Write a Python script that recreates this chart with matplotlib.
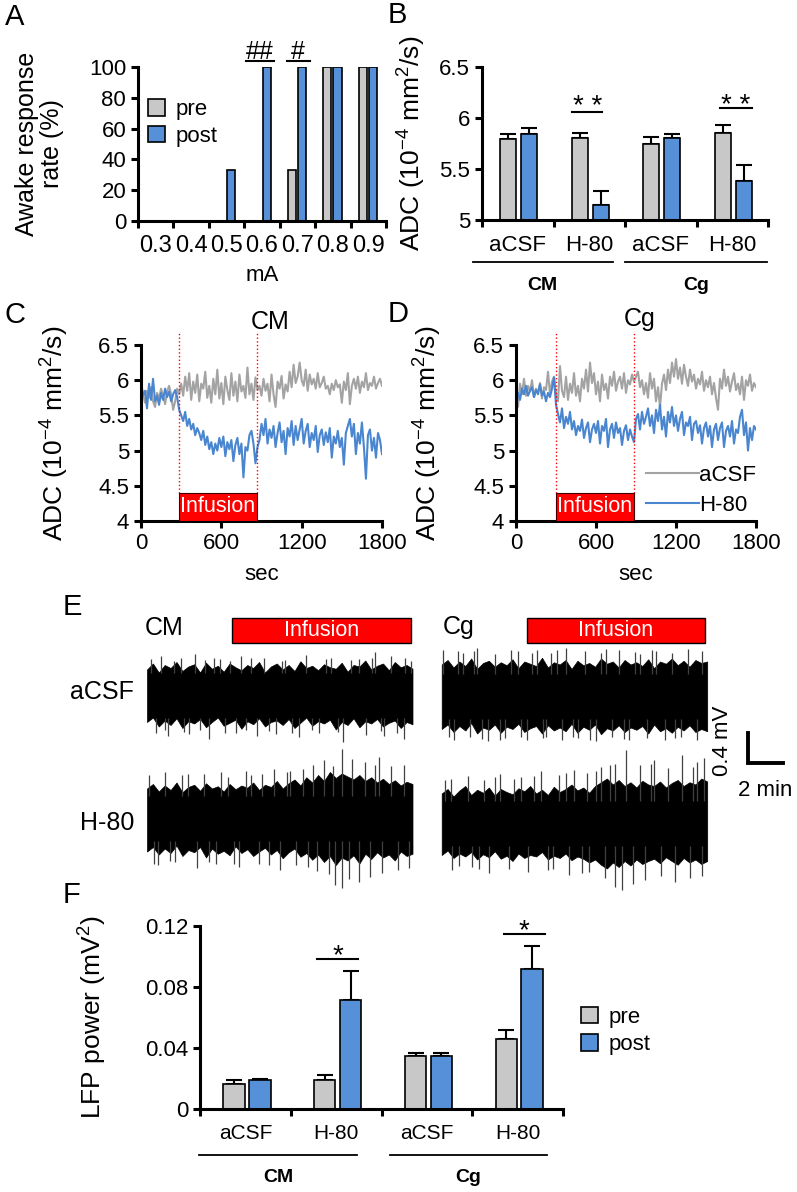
import numpy as np
import matplotlib
matplotlib.use('Agg')
import matplotlib.pyplot as plt
from matplotlib.patches import Rectangle
from matplotlib.transforms import blended_transform_factory as blend

plt.rcParams['font.family'] = ['Liberation Sans', 'DejaVu Sans']
plt.rcParams['mathtext.fontset'] = 'custom'
plt.rcParams['mathtext.rm'] = 'Liberation Sans'
plt.rcParams['mathtext.it'] = 'Liberation Sans:italic'
plt.rcParams['mathtext.bf'] = 'Liberation Sans:bold'

# ------------------------------------------------------------------ data
# Panel A
a_currents = ['0.3', '0.4', '0.5', '0.6', '0.7', '0.8', '0.9']
a_pre = [0, 0, 0, 0, 33.3, 100, 100]
a_post = [0, 0, 33.3, 100, 100, 100, 100]

# Panel B (ADC, 10^-4 mm^2/s)
b_groups = ['aCSF', 'H-80', 'aCSF', 'H-80']
b_pre = [5.79, 5.80, 5.75, 5.85]
b_pre_err = [0.05, 0.05, 0.06, 0.08]
b_post = [5.84, 5.15, 5.80, 5.38]
b_post_err = [0.06, 0.13, 0.04, 0.16]

# Panels C / D time courses (sampled every 15 s)
ts_step_sec = 15
c_acsf = [5.72, 5.80, 5.68, 5.85, 5.75, 5.90, 5.70, 5.62, 5.82, 5.74, 5.88, 5.78, 5.66, 5.84, 5.92, 5.80, 5.58, 5.70, 5.88, 5.80,
          5.95, 5.78, 6.05, 5.85, 6.10, 5.72, 5.98, 5.82, 6.08, 5.70, 5.95, 5.88, 6.12, 5.75, 5.92, 5.68, 6.02, 5.80, 6.15, 5.74,
          5.96, 5.66, 6.05, 5.86, 5.72, 6.10, 5.78, 5.98, 5.70, 6.08, 5.84, 5.92, 5.75, 6.18, 5.80, 5.95, 5.72, 6.04, 5.86, 5.92,
          5.78, 6.02, 5.85, 5.95, 5.70, 6.08, 5.80, 5.62, 5.98, 5.88, 6.06, 5.74, 5.94, 5.84, 6.12, 5.90, 6.22, 5.96, 6.05, 6.25,
          6.00, 5.92, 6.15, 5.85, 6.08, 5.94, 6.02, 5.88, 6.10, 5.90, 5.96, 6.05, 5.88, 5.92, 5.80, 5.95, 5.86, 6.00, 5.90, 5.94,
          5.68, 5.98, 5.86, 6.10, 5.66, 5.92, 6.02, 5.88, 6.05, 5.82, 5.98, 5.90, 6.10, 5.86, 5.96, 5.92, 6.05, 5.88, 5.96, 6.02,
          5.92]
c_h80 = [6.00, 5.78, 5.85, 5.60, 5.95, 5.72, 6.02, 5.70, 5.78, 5.65, 5.82, 5.72, 5.88, 5.76, 5.84, 5.70, 5.80, 5.86, 5.76, 5.58,
         5.50, 5.42, 5.55, 5.35, 5.45, 5.30, 5.38, 5.22, 5.32, 5.25, 5.15, 5.28, 5.08, 5.20, 5.02, 5.12, 4.95, 5.10, 5.00, 5.18,
         5.05, 5.20, 4.92, 5.12, 5.02, 5.15, 4.85, 5.08, 5.18, 4.95, 5.10, 4.62, 5.05, 5.00, 5.22, 5.28, 5.10, 4.82, 5.05, 5.15,
         5.38, 5.22, 5.45, 5.10, 5.30, 5.18, 5.35, 5.05, 5.25, 5.40, 5.12, 5.28, 4.95, 5.32, 5.20, 5.42, 5.08, 5.35, 5.15, 5.30,
         5.45, 5.10, 5.28, 5.38, 5.05, 5.25, 5.15, 5.35, 4.98, 5.22, 5.30, 5.08, 5.26, 5.12, 5.32, 4.90, 5.20, 5.10, 5.28, 5.05,
         5.18, 4.80, 5.25, 5.35, 5.45, 5.20, 5.38, 4.95, 5.25, 5.10, 5.40, 5.05, 4.60, 5.22, 5.30, 5.00, 5.18, 4.90, 5.25, 5.15,
         4.95]
d_acsf = [5.70, 5.62, 5.95, 5.80, 6.02, 5.78, 5.92, 5.84, 6.00, 5.76, 5.88, 5.82, 5.96, 5.74, 5.90, 5.86, 6.12, 5.80, 5.98, 6.05,
          5.80, 5.70, 6.20, 5.85, 5.76, 6.05, 5.72, 5.95, 5.82, 6.10, 5.78, 5.92, 5.70, 6.02, 5.88, 6.15, 5.84, 6.25, 5.96, 6.10,
          5.80, 5.98, 5.70, 6.08, 5.86, 5.95, 5.74, 6.05, 5.92, 6.12, 5.85, 5.98, 6.05, 5.88, 6.10, 5.82, 6.00, 5.94, 6.08, 5.98,
          6.05, 6.12, 5.90, 6.00, 5.80, 5.96, 5.75, 6.10, 5.88, 6.02, 5.70, 5.90, 5.62, 5.95, 6.08, 5.86, 6.15, 5.96, 6.25, 6.05,
          6.30, 6.02, 6.18, 5.95, 6.22, 6.05, 5.92, 6.15, 5.98, 6.08, 5.88, 6.02, 5.94, 6.12, 5.85, 6.00, 5.90, 6.05, 5.80, 5.96,
          5.75, 5.58, 6.02, 5.88, 6.15, 5.92, 6.05, 5.84, 5.98, 6.10, 5.86, 5.95, 5.80, 6.05, 5.72, 6.00, 5.92, 6.08, 5.85, 5.96,
          5.90]
d_h80 = [5.75, 5.82, 5.72, 5.88, 5.80, 5.92, 5.78, 5.85, 5.90, 5.76, 5.86, 5.80, 5.94, 5.78, 5.84, 5.70, 5.82, 5.76, 5.88, 6.04,
         5.65, 5.52, 5.40, 5.60, 5.32, 5.48, 5.38, 5.55, 5.30, 5.42, 5.22, 5.35, 5.28, 5.44, 5.18, 5.32, 5.40, 5.12, 5.30, 5.38,
         5.25, 5.42, 5.10, 5.35, 5.28, 5.45, 5.05, 5.30, 5.38, 5.18, 5.40, 5.25, 5.32, 5.08, 5.28, 5.36, 5.15, 5.30, 5.20, 5.12,
         5.45, 5.52, 5.30, 5.55, 5.38, 5.48, 5.60, 5.35, 5.50, 5.25, 5.58, 5.42, 5.65, 5.30, 5.48, 5.20, 5.55, 5.40, 5.62, 5.35,
         5.50, 5.28, 5.45, 5.55, 5.22, 5.40, 5.35, 5.48, 5.15, 5.38, 5.42, 5.25, 5.36, 5.10, 5.32, 5.40, 5.20, 5.35, 5.05, 5.30,
         5.38, 5.15, 5.32, 5.40, 5.05, 5.28, 5.35, 5.20, 5.42, 5.10, 5.30, 5.25, 5.48, 5.58, 5.22, 5.40, 5.00, 5.32, 5.15, 5.35,
         5.30]
c_infusion = (285, 865)
d_infusion = (300, 885)

# Panel E LFP trace envelopes (mV around trace centre, every 20 s over 15 min)
e_step_min = 1 / 3
cm_acsf_up = [0.34, 0.42, 0.30, 0.40, 0.36, 0.44, 0.32, 0.38, 0.41, 0.30,
              0.43, 0.35, 0.39, 0.31, 0.42, 0.37, 0.33, 0.40, 0.36, 0.44,
              0.30, 0.38, 0.42, 0.34, 0.40, 0.32, 0.45, 0.36, 0.39, 0.33,
              0.41, 0.37, 0.35, 0.43, 0.31, 0.40, 0.38, 0.46, 0.34, 0.39,
              0.42, 0.33, 0.44, 0.37, 0.40, 0.35]
cm_acsf_lo = [-0.36, -0.30, -0.42, -0.34, -0.40, -0.31, -0.44, -0.35, -0.38, -0.32,
              -0.43, -0.36, -0.30, -0.41, -0.37, -0.33, -0.45, -0.35, -0.39, -0.31,
              -0.42, -0.36, -0.34, -0.40, -0.32, -0.44, -0.37, -0.30, -0.41, -0.35,
              -0.38, -0.33, -0.46, -0.36, -0.40, -0.31, -0.43, -0.35, -0.38, -0.32,
              -0.42, -0.37, -0.34, -0.44, -0.36, -0.39]
cm_h80_up = [0.40, 0.46, 0.36, 0.44, 0.38, 0.48, 0.35, 0.42, 0.45, 0.37,
             0.47, 0.40, 0.43, 0.36, 0.46, 0.39, 0.44, 0.41, 0.48, 0.38,
             0.45, 0.42, 0.50, 0.40, 0.47, 0.52, 0.44, 0.55, 0.48, 0.58,
             0.50, 0.62, 0.54, 0.60, 0.56, 0.52, 0.58, 0.50, 0.55, 0.48,
             0.53, 0.46, 0.51, 0.44, 0.49, 0.46]
cm_h80_lo = [-0.44, -0.38, -0.48, -0.40, -0.46, -0.36, -0.50, -0.42, -0.45, -0.38,
             -0.52, -0.40, -0.47, -0.43, -0.49, -0.37, -0.46, -0.41, -0.50, -0.44,
             -0.39, -0.48, -0.42, -0.53, -0.45, -0.40, -0.51, -0.46, -0.55, -0.48,
             -0.58, -0.50, -0.62, -0.52, -0.56, -0.49, -0.60, -0.47, -0.54, -0.45,
             -0.52, -0.48, -0.56, -0.44, -0.50, -0.47]
cg_acsf_up = [0.42, 0.48, 0.38, 0.46, 0.40, 0.50, 0.36, 0.44, 0.47, 0.39,
              0.45, 0.41, 0.49, 0.37, 0.46, 0.43, 0.40, 0.51, 0.38, 0.45,
              0.42, 0.48, 0.36, 0.47, 0.41, 0.44, 0.39, 0.50, 0.43, 0.46,
              0.38, 0.48, 0.42, 0.45, 0.40, 0.49, 0.37, 0.46, 0.43, 0.50,
              0.41, 0.47, 0.39, 0.48, 0.44, 0.46]
cg_acsf_lo = [-0.44, -0.38, -0.48, -0.40, -0.46, -0.36, -0.50, -0.42, -0.45, -0.38,
              -0.49, -0.41, -0.44, -0.37, -0.48, -0.43, -0.40, -0.50, -0.39, -0.46,
              -0.42, -0.47, -0.37, -0.49, -0.41, -0.45, -0.38, -0.51, -0.43, -0.46,
              -0.39, -0.48, -0.42, -0.45, -0.40, -0.50, -0.38, -0.47, -0.43, -0.49,
              -0.41, -0.46, -0.39, -0.48, -0.44, -0.47]
cg_h80_up = [0.40, 0.46, 0.36, 0.44, 0.50, 0.38, 0.45, 0.41, 0.48, 0.37,
             0.46, 0.42, 0.39, 0.47, 0.43, 0.50, 0.40, 0.45, 0.38, 0.49,
             0.42, 0.46, 0.52, 0.44, 0.48, 0.41, 0.50, 0.55, 0.60, 0.52,
             0.58, 0.50, 0.55, 0.48, 0.57, 0.52, 0.50, 0.56, 0.48, 0.54,
             0.58, 0.50, 0.55, 0.52, 0.60, 0.56]
cg_h80_lo = [-0.42, -0.36, -0.46, -0.40, -0.44, -0.38, -0.48, -0.41, -0.45, -0.37,
             -0.47, -0.43, -0.50, -0.40, -0.46, -0.42, -0.44, -0.38, -0.48, -0.43,
             -0.46, -0.40, -0.49, -0.44, -0.47, -0.52, -0.48, -0.55, -0.60, -0.52,
             -0.58, -0.50, -0.56, -0.48, -0.54, -0.50, -0.47, -0.53, -0.45, -0.50,
             -0.55, -0.46, -0.52, -0.48, -0.54, -0.50]
# spikes: time (min) and peak (mV) of the individual excursions beyond the dense band
cm_acsf_spk_t = [0.2, 0.5, 0.8, 1.0, 1.2, 1.5, 1.9, 2.1, 2.4, 2.7,
                 3.0, 3.3, 3.5, 3.8, 4.1, 4.4, 4.7, 5.0, 5.3, 5.6,
                 5.9, 6.2, 6.6, 6.9, 7.3, 7.6, 7.8, 8.2, 8.6, 9.0,
                 9.3, 9.7, 10.1, 10.4, 10.8, 11.1, 11.5, 12.0, 12.4, 12.7,
                 12.9, 13.2, 13.4, 13.8, 14.1, 14.5, 14.6, 14.9]
cm_acsf_spk_v = [0.48, -0.50, 0.52, -0.47, -0.55, 0.46, 0.50, -0.49, -0.52, 0.55,
                 -0.46, 0.47, -0.58, 0.49, 0.48, -0.51, 0.46, -0.50, 0.52, -0.47,
                 0.49, -0.54, 0.50, -0.48, -0.52, 0.46, 0.47, -0.50, -0.56, 0.53,
                 -0.47, -0.50, 0.48, 0.50, -0.49, -0.62, 0.47, 0.48, -0.53, 0.50,
                 0.57, -0.48, -0.55, 0.52, -0.50, -0.58, 0.49, 0.46]
cm_h80_spk_t = [0.1, 0.4, 0.6, 1.0, 1.3, 1.6, 2.0, 2.3, 2.8, 3.2,
                3.5, 3.9, 4.2, 4.6, 4.9, 5.2, 5.6, 5.9, 6.3, 6.5,
                6.9, 7.2, 7.5, 7.9, 8.1, 8.4, 8.8, 9.1, 9.4, 9.6,
                10.0, 10.3, 10.5, 10.6, 11.0, 11.0, 11.4, 11.6, 12.0, 12.3,
                12.6, 12.9, 13.1, 13.3, 13.8, 14.2, 14.5, 14.8]
cm_h80_spk_v = [0.58, -0.60, -0.62, 0.62, -0.56, -0.58, 0.58, 0.60, -0.66, 0.60,
                -0.58, -0.60, 0.62, 0.55, -0.60, -0.64, 0.64, 0.58, -0.60, 0.60,
                -0.62, 0.66, -0.68, 0.62, 0.64, -0.62, 0.66, -0.64, 0.72, -0.70,
                0.78, -0.74, 0.70, -0.88, 0.93, -0.92, -0.80, 0.80, -0.85, 0.75,
                -0.78, 0.72, 0.82, -0.72, 0.70, -0.68, 0.72, -0.66]
cg_acsf_spk_t = [0.1, 0.4, 0.7, 0.9, 1.2, 1.6, 1.8, 2.0, 2.3, 2.6,
                 3.0, 3.3, 3.6, 3.9, 4.3, 4.5, 4.8, 5.1, 5.4, 5.7,
                 5.9, 6.2, 6.5, 6.8, 7.0, 7.4, 7.7, 8.1, 8.4, 8.7,
                 9.0, 9.3, 9.6, 10.0, 10.3, 10.6, 10.9, 11.2, 11.6, 11.9,
                 12.1, 12.6, 13.0, 13.2, 13.5, 13.9, 14.4, 14.7]
cg_acsf_spk_v = [0.62, -0.55, -0.58, 0.60, 0.58, -0.55, 0.60, 0.64, -0.57, -0.60,
                 0.56, -0.58, -0.56, 0.62, 0.60, -0.55, -0.59, 0.58, 0.62, -0.56,
                 -0.54, 0.57, 0.61, -0.58, 0.64, -0.55, -0.56, 0.60, -0.58, -0.60,
                 0.58, 0.63, -0.55, 0.62, -0.57, -0.58, 0.59, 0.56, -0.56, 0.61,
                 0.60, -0.59, 0.58, -0.56, -0.55, 0.63, -0.58, 0.60]
cg_h80_spk_t = [0.2, 0.5, 0.6, 1.0, 1.5, 1.7, 2.1, 2.4, 2.7, 3.0,
                3.3, 3.8, 4.1, 4.5, 4.9, 5.2, 5.6, 6.0, 6.3, 6.6,
                7.0, 7.2, 7.5, 7.9, 8.2, 8.3, 8.7, 9.0, 9.2, 9.5,
                9.8, 9.8, 10.2, 10.4, 10.8, 11.2, 11.5, 11.8, 12.0, 12.4,
                12.8, 13.2, 13.6, 14.0, 14.2, 14.4, 14.7, 14.8]
cg_h80_spk_v = [0.58, 0.60, -0.62, -0.56, 0.64, -0.58, -0.60, 0.58, -0.66, 0.62,
                0.66, -0.60, 0.60, 0.62, -0.64, 0.64, 0.70, -0.62, -0.60, 0.65,
                0.68, -0.68, 0.72, -0.66, 0.68, -0.64, 0.70, 0.75, -0.72, 0.78,
                0.80, -0.85, -0.89, 0.98, -0.80, 0.78, -0.75, 0.80, 0.85, -0.70,
                0.74, -0.78, 0.92, -0.72, 0.76, 0.82, -0.70, 0.88]
e_infusion = (4.8, 14.9)

# Panel F (LFP power, mV^2)
f_groups = ['aCSF', 'H-80', 'aCSF', 'H-80']
f_pre = [0.0164, 0.0192, 0.0345, 0.0459]
f_pre_err = [0.0024, 0.0028, 0.0022, 0.0061]
f_post = [0.0192, 0.0713, 0.0345, 0.0918]
f_post_err = [0.0007, 0.0190, 0.0022, 0.0149]

# ------------------------------------------------------------------ style
GREY = '#c8c8c8'
BLUE = '#5590d8'
LINE_GREY = '#a3a3a3'
LINE_BLUE = '#4a86d0'
W, H = 797, 1192
fig = plt.figure(figsize=(W / 100, H / 100), dpi=100)


def px_axes(l, t, r, b):
    return fig.add_axes([l / W, 1 - b / H, (r - l) / W, (b - t) / H])


def ftext(x, y, s, **kw):
    fig.text(x / W, 1 - y / H, s, **kw)


def style(ax, labelsize=16):
    for s in ('top', 'right'):
        ax.spines[s].set_visible(False)
    for s in ('left', 'bottom'):
        ax.spines[s].set_linewidth(2.2)
    ax.tick_params(axis='both', which='major', width=2.2, length=5,
                   direction='out', labelsize=labelsize)


def cat_axis(ax, labels, pad, fontsize):
    n = len(labels)
    ax.set_xlim(-0.5, n - 0.5)
    ax.set_xticks(np.arange(n + 1) - 0.5)
    ax.set_xticklabels([])
    ax.set_xticks(np.arange(n), minor=True)
    ax.set_xticklabels(labels, minor=True, fontsize=fontsize)
    ax.tick_params(axis='x', which='minor', length=0, pad=pad)


def group_line(ax, x0, x1, y_line, y_text, label):
    tr = blend(ax.transData, ax.transAxes)
    ax.plot([x0, x1], [y_line, y_line], color='k', lw=1.3, transform=tr, clip_on=False)
    ax.text((x0 + x1) / 2, y_text, label, transform=tr, ha='center', va='center',
            fontsize=14, fontweight='bold')


# ------------------------------------------------------------------ A
axA = px_axes(138, 67, 386, 221)
style(axA)
xa = np.arange(len(a_currents))
axA.bar(xa - 0.155, a_pre, 0.23, color=GREY, edgecolor='k', lw=1.2, label='pre')
axA.bar(xa + 0.13, a_post, 0.23, color=BLUE, edgecolor='k', lw=1.2, label='post')
cat_axis(axA, a_currents, 10, 17)
axA.set_ylim(0, 100)
axA.set_yticks([0, 20, 40, 60, 80, 100])
axA.set_xlabel('mA', fontsize=16, labelpad=6)
axA.set_ylabel('Awake response\nrate (%)', fontsize=18, linespacing=1.05)
axA.yaxis.set_label_coords(-0.30, 0.5)
axA.legend(loc='upper left', bbox_to_anchor=(0.04, 0.79), frameon=False, fontsize=16,
           handlelength=0.75, handleheight=0.75, handletextpad=0.5, labelspacing=0.25,
           borderpad=0, borderaxespad=0)
axA.text(2.93, 105.5, '##', ha='center', va='baseline', fontsize=18, clip_on=False)
axA.plot([2.56, 3.33], [104, 104], color='k', lw=1.5, clip_on=False)
axA.text(4.02, 105.5, '#', ha='center', va='baseline', fontsize=18, clip_on=False)
axA.plot([3.70, 4.36], [104, 104], color='k', lw=1.5, clip_on=False)

# ------------------------------------------------------------------ B
axB = px_axes(482, 67, 768, 220)
style(axB)
xb = np.arange(len(b_groups))
axB.bar(xb - 0.135, b_pre, 0.225, color=GREY, edgecolor='k', lw=1.2, zorder=2)
axB.bar(xb + 0.16, b_post, 0.225, color=BLUE, edgecolor='k', lw=1.2, zorder=2)
axB.errorbar(xb - 0.135, b_pre, yerr=[np.zeros(4), b_pre_err], fmt='none', ecolor='k',
             elinewidth=1.5, capsize=6, capthick=1.5, zorder=1)
axB.errorbar(xb + 0.16, b_post, yerr=[np.zeros(4), b_post_err], fmt='none', ecolor='k',
             elinewidth=1.5, capsize=6, capthick=1.5, zorder=1)
cat_axis(axB, b_groups, 11, 16)
axB.set_ylim(5, 6.5)
axB.set_yticks([5, 5.5, 6, 6.5])
axB.set_yticklabels(['5', '5.5', '6', '6.5'])
axB.set_ylabel(r'ADC (10$^{-4}$ mm$^2$/s)', fontsize=19)
axB.yaxis.set_label_coords(-0.19, 0.5)
group_line(axB, -0.63, 1.33, -0.275, -0.43, 'CM')
group_line(axB, 1.50, 3.49, -0.275, -0.43, 'Cg')
axB.plot([0.76, 1.18], [6.06, 6.06], color='k', lw=1.5, clip_on=False)
axB.text(0.98, 6.04, '* *', ha='center', va='baseline', fontsize=20)
axB.plot([2.83, 3.28], [6.10, 6.10], color='k', lw=1.5, clip_on=False)
axB.text(3.05, 6.05, '* *', ha='center', va='baseline', fontsize=20)


# ------------------------------------------------------------------ C / D
def ts_panel(box, acsf, h80, inf, title, title_pos, ylab_x, legend=False):
    ax = px_axes(*box)
    style(ax)
    t = np.arange(len(acsf)) * ts_step_sec
    ax.plot(t, acsf, color=LINE_GREY, lw=1.5, label='aCSF')
    ax.plot(t, h80, color=LINE_BLUE, lw=1.5, label='H-80')
    ax.set_xlim(0, 1800)
    ax.set_ylim(4, 6.5)
    ax.set_xticks([0, 600, 1200, 1800])
    ax.set_yticks([4, 4.5, 5, 5.5, 6, 6.5])
    ax.set_yticklabels(['4', '4.5', '5', '5.5', '6', '6.5'])
    ax.set_xlabel('sec', fontsize=16, labelpad=7)
    ax.set_ylabel(r'ADC (10$^{-4}$ mm$^2$/s)', fontsize=19)
    ax.yaxis.set_label_coords(ylab_x, 0.5)
    for xv in inf:
        ax.plot([xv, xv], [4.4, 6.67], color='red', ls=':', lw=1.0, clip_on=False)
    ax.add_patch(Rectangle((inf[0], 4.0), inf[1] - inf[0], 0.4, facecolor='#ff0000',
                           edgecolor='#400000', lw=0.8, zorder=3))
    ax.text((inf[0] + inf[1]) / 2, 4.2, 'Infusion', color='white', ha='center',
            va='center', fontsize=15.5, zorder=4)
    ax.text(title_pos[0], title_pos[1], title, transform=ax.transAxes, ha='center',
            va='center', fontsize=18)
    if legend:
        ax.legend(loc='lower right', bbox_to_anchor=(1.0, 0.03), frameon=False, fontsize=16,
                  handlelength=2.4, handletextpad=0.0, labelspacing=0.4,
                  borderpad=0, borderaxespad=0)
    return ax


axC = ts_panel((141, 345, 382, 521), c_acsf, c_h80, c_infusion, 'CM', (0.535, 1.13), -0.29)
axD = ts_panel((516, 345, 756, 521), d_acsf, d_h80, d_infusion, 'Cg', (0.517, 1.15), -0.30,
               legend=True)

# ------------------------------------------------------------------ E
E_PX_PER_MIN = 17.7
E_PX_PER_MV = 75.0
axE = px_axes(147, 600, 797, 900)
axE.set_xlim(0, 650 / E_PX_PER_MIN)
axE.set_ylim(0, 300 / E_PX_PER_MV)
axE.axis('off')


def ex(px):
    return (px - 147) / E_PX_PER_MIN


def ey(py):
    return (900 - py) / E_PX_PER_MV


def draw_trace(x0, yc, up, lo, spk_t, spk_v):
    t = x0 + np.arange(len(up)) * e_step_min
    axE.fill_between(t, yc + np.array(lo), yc + np.array(up), facecolor='black',
                     edgecolor='black', lw=0.5)
    st = x0 + np.array(spk_t)
    sv = np.array(spk_v)
    base = yc + np.sign(sv) * 0.3
    axE.vlines(st, base, yc + sv, color='#404040', lw=0.9)


cg_x0 = ex(441.7)
draw_trace(0, ey(695), cm_acsf_up, cm_acsf_lo, cm_acsf_spk_t, cm_acsf_spk_v)
draw_trace(0, ey(818.5), cm_h80_up, cm_h80_lo, cm_h80_spk_t, cm_h80_spk_v)
draw_trace(cg_x0, ey(696), cg_acsf_up, cg_acsf_lo, cg_acsf_spk_t, cg_acsf_spk_v)
draw_trace(cg_x0, ey(823.5), cg_h80_up, cg_h80_lo, cg_h80_spk_t, cg_h80_spk_v)

for x0 in (0, cg_x0):
    axE.add_patch(Rectangle((x0 + e_infusion[0], ey(643)), e_infusion[1] - e_infusion[0],
                            ey(618) - ey(643), facecolor='#ff0000', edgecolor='black', lw=1.0))
    axE.text(x0 + (e_infusion[0] + e_infusion[1]) / 2, ey(630.5), 'Infusion', color='white',
             ha='center', va='center', fontsize=15.5)
axE.text(ex(145), ey(628), 'CM', ha='left', va='center', fontsize=18)
axE.text(ex(443), ey(627), 'Cg', ha='left', va='center', fontsize=18)
axE.text(ex(134), ey(692), 'aCSF', ha='right', va='center', fontsize=18)
axE.text(ex(134), ey(823), 'H-80', ha='right', va='center', fontsize=18)
sb_x = ex(748)
axE.plot([sb_x, sb_x, sb_x + 2], [ey(763) + 0.4, ey(763), ey(763)], color='k', lw=2.8,
         solid_joinstyle='miter')
axE.text(ex(723), ey(741), '0.4 mV', rotation=90, ha='center', va='center', fontsize=16)
axE.text(ex(765), ey(791), '2 min', ha='center', va='center', fontsize=16)

# ------------------------------------------------------------------ F
axF = px_axes(200, 926, 563, 1109)
style(axF)
xf = np.arange(len(f_groups))
axF.bar(xf - 0.125, f_pre, 0.235, color=GREY, edgecolor='k', lw=1.2, zorder=2, label='pre')
axF.bar(xf + 0.16, f_post, 0.235, color=BLUE, edgecolor='k', lw=1.2, zorder=2, label='post')
axF.errorbar(xf - 0.125, f_pre, yerr=[np.zeros(4), f_pre_err], fmt='none', ecolor='k',
             elinewidth=1.5, capsize=6, capthick=1.5, zorder=1)
axF.errorbar(xf + 0.16, f_post, yerr=[np.zeros(4), f_post_err], fmt='none', ecolor='k',
             elinewidth=1.5, capsize=6, capthick=1.5, zorder=1)
cat_axis(axF, f_groups, 11, 15)
axF.set_ylim(0, 0.12)
axF.set_yticks([0, 0.04, 0.08, 0.12])
axF.set_yticklabels(['0', '0.04', '0.08', '0.12'])
axF.set_ylabel(r'LFP power (mV$^2$)', fontsize=19)
axF.yaxis.set_label_coords(-0.25, 0.5)
group_line(axF, -0.51, 1.23, -0.251, -0.377, 'CM')
group_line(axF, 1.59, 3.32, -0.251, -0.377, 'Cg')
axF.plot([0.79, 1.24], [0.0984, 0.0984], color='k', lw=1.5, clip_on=False)
axF.text(1.02, 0.0958, '*', ha='center', va='baseline', fontsize=20, clip_on=False)
axF.plot([2.85, 3.30], [0.1146, 0.1146], color='k', lw=1.5, clip_on=False)
axF.text(3.07, 0.112, '*', ha='center', va='baseline', fontsize=20, clip_on=False)
axF.legend(loc='upper left', bbox_to_anchor=(1.05, 0.56), frameon=False, fontsize=16,
           handlelength=0.75, handleheight=0.75, handletextpad=0.5, labelspacing=0.3,
           borderpad=0, borderaxespad=0)

# ------------------------------------------------------------------ panel letters
for lx, ly, s in [(5, 17, 'A'), (388, 15, 'B'), (5, 315, 'C'), (388, 314, 'D'),
                  (63, 607, 'E'), (63, 895, 'F')]:
    ftext(lx, ly, s, ha='left', va='center', fontsize=21)

fig.savefig('out.png', dpi=100)
